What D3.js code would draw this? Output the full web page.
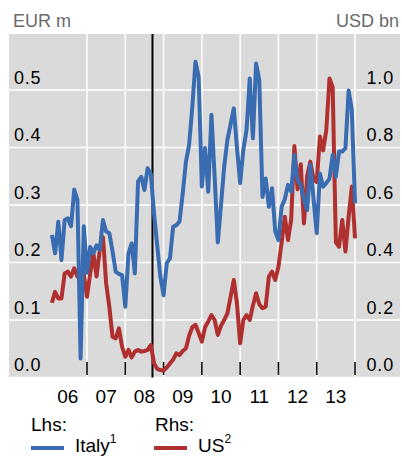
<!DOCTYPE html>
<html>
<head>
<meta charset="utf-8">
<script src="https://cdn.jsdelivr.net/npm/d3@7"></script>
<style>
  html, body { margin: 0; padding: 0; background: #fff; }
  svg { display: block; font-family: "Liberation Sans", Arial, sans-serif; }
</style>
</head>
<body>
<svg id="chart" width="402" height="456"></svg>
<script>
// ---- data ----
const startYear = 2006;           // first observation: Jan 2006 (end of month)
const italy = [
  0.248,0.216,0.271,0.204,0.274,0.277,0.263,0.327,0.309,0.033,0.263,0.182,
  0.227,0.216,0.230,0.222,0.274,0.254,0.251,0.220,0.184,0.180,0.178,0.123,
  0.216,0.233,0.181,0.341,0.349,0.326,0.364,0.354,0.286,0.230,0.175,0.143,
  0.199,0.207,0.262,0.265,0.271,0.320,0.375,0.404,0.470,0.549,0.523,0.332,
  0.399,0.323,0.457,0.350,0.235,0.300,0.367,0.413,0.440,0.468,0.400,0.338,
  0.396,0.430,0.520,0.416,0.546,0.517,0.314,0.346,0.297,0.329,0.254,0.239,
  0.297,0.310,0.335,0.323,0.387,0.343,0.335,0.310,0.291,0.370,0.310,0.251,
  0.355,0.332,0.338,0.346,0.387,0.349,0.393,0.393,0.399,0.499,0.465,0.303
];
const us = [
  0.260,0.298,0.275,0.275,0.362,0.368,0.351,0.380,0.351,0.372,0.360,0.281,
  0.362,0.432,0.351,0.443,0.488,0.328,0.246,0.142,0.136,0.171,0.107,0.072,
  0.096,0.070,0.090,0.096,0.090,0.092,0.096,0.113,0.050,0.030,0.026,0.024,
  0.035,0.049,0.062,0.084,0.078,0.092,0.101,0.145,0.175,0.183,0.155,0.125,
  0.175,0.195,0.217,0.200,0.148,0.180,0.200,0.223,0.280,0.339,0.258,0.119,
  0.200,0.217,0.200,0.250,0.293,0.255,0.241,0.246,0.351,0.368,0.339,0.385,
  0.470,0.559,0.478,0.550,0.805,0.655,0.742,0.536,0.700,0.751,0.690,0.680,
  0.838,0.790,0.860,1.040,1.010,0.470,0.455,0.548,0.438,0.559,0.664,0.484
];
const yearLabels = ["06","07","08","09","10","11","12","13"];
const yearTicks = [2007,2008,2009,2010,2011,2012,2013,2014];
const leftTicks = [0.0,0.1,0.2,0.3,0.4,0.5];
const rightTicks = [0.0,0.2,0.4,0.6,0.8,1.0];
const eventDate = 2008.71;   // vertical marker (Sep 2008)
const leftUnit = "EUR m", rightUnit = "USD bn";

// ---- layout ----
const svg = d3.select("#chart");
const plot = {left: 9, right: 400, top: 34, bottom: 377.5};
const x = d3.scaleLinear().domain([2004.963, 2015.175]).range([plot.left, plot.right]);
const yL = d3.scaleLinear().domain([0, 0.5]).range([plot.bottom, 90]);
const yR = d3.scaleLinear().domain([0, 1.0]).range([plot.bottom, 90]);
const t = i => startYear + (i + 1) / 12;

const blue = "#3a6cb2", red = "#b0302f";

svg.append("rect").attr("x", plot.left).attr("y", plot.top)
  .attr("width", plot.right - plot.left).attr("height", plot.bottom - plot.top)
  .attr("fill", "#dadada");

// horizontal gridlines
svg.append("g").selectAll("line").data(leftTicks).join("line")
  .attr("x1", plot.left).attr("x2", plot.right)
  .attr("y1", d => yL(d)).attr("y2", d => yL(d))
  .attr("stroke", "#fff").attr("stroke-width", 1.5);
// vertical gridlines
svg.append("g").selectAll("line").data(yearTicks).join("line")
  .attr("x1", d => x(d)).attr("x2", d => x(d))
  .attr("y1", plot.top).attr("y2", plot.bottom)
  .attr("stroke", "#fff").attr("stroke-width", 1.5);

// ticks at bottom
svg.append("g").selectAll("line").data(yearTicks).join("line")
  .attr("x1", d => x(d)).attr("x2", d => x(d))
  .attr("y1", plot.bottom - 15.5).attr("y2", plot.bottom - 2.5)
  .attr("stroke", "#000").attr("stroke-width", 1.5);

// event line
svg.append("line").attr("x1", x(eventDate)).attr("x2", x(eventDate))
  .attr("y1", plot.top).attr("y2", plot.bottom)
  .attr("stroke", "#000").attr("stroke-width", 2);

// y labels
const fmt = d3.format(".1f");
svg.append("g").selectAll("text").data(leftTicks).join("text")
  .attr("x", 14).attr("y", d => yL(d) - 6.5)
  .attr("font-size", 18).attr("letter-spacing", 0.8).attr("fill", "#000")
  .text(d => fmt(d));
svg.append("g").selectAll("text").data(rightTicks).join("text")
  .attr("x", 394).attr("y", d => yR(d) - 6.5).attr("text-anchor", "end")
  .attr("font-size", 18).attr("letter-spacing", 0.8).attr("fill", "#000")
  .text(d => fmt(d));

// units
svg.append("text").attr("x", 13).attr("y", 27).attr("font-size", 18)
  .attr("fill", "#6a6a6a").text(leftUnit);
svg.append("text").attr("x", 399).attr("y", 27).attr("font-size", 18)
  .attr("text-anchor", "end").attr("fill", "#6a6a6a").text(rightUnit);

// x labels (mid-year)
svg.append("g").selectAll("text").data(yearLabels).join("text")
  .attr("x", (d, i) => x(startYear + i + 0.5)).attr("y", 403)
  .attr("text-anchor", "middle").attr("font-size", 19).attr("fill", "#000")
  .text(d => d);

// lines
const lineL = d3.line().x((d, i) => x(t(i))).y(d => yL(d));
const lineR = d3.line().x((d, i) => x(t(i))).y(d => yR(d));
svg.append("path").datum(us).attr("d", lineR).attr("fill", "none")
  .attr("stroke", red).attr("stroke-width", 4).attr("stroke-linejoin", "round");
svg.append("path").datum(italy).attr("d", lineL).attr("fill", "none")
  .attr("stroke", blue).attr("stroke-width", 4).attr("stroke-linejoin", "round");

// legend
const lg = svg.append("g").attr("font-size", 19).attr("fill", "#000");
lg.append("text").attr("x", 31).attr("y", 431).text("Lhs:");
lg.append("text").attr("x", 155).attr("y", 431).text("Rhs:");
lg.append("line").attr("x1", 31).attr("x2", 64).attr("y1", 448).attr("y2", 448)
  .attr("stroke", blue).attr("stroke-width", 4);
lg.append("line").attr("x1", 154).attr("x2", 187).attr("y1", 448).attr("y2", 448)
  .attr("stroke", red).attr("stroke-width", 4);
const t1 = lg.append("text").attr("x", 75).attr("y", 451.5);
t1.append("tspan").text("Italy");
t1.append("tspan").attr("font-size", 12).attr("dy", -9).text("1");
const t2 = lg.append("text").attr("x", 198).attr("y", 451.5);
t2.append("tspan").text("US");
t2.append("tspan").attr("font-size", 12).attr("dy", -9).text("2");
</script>
</body>
</html>
